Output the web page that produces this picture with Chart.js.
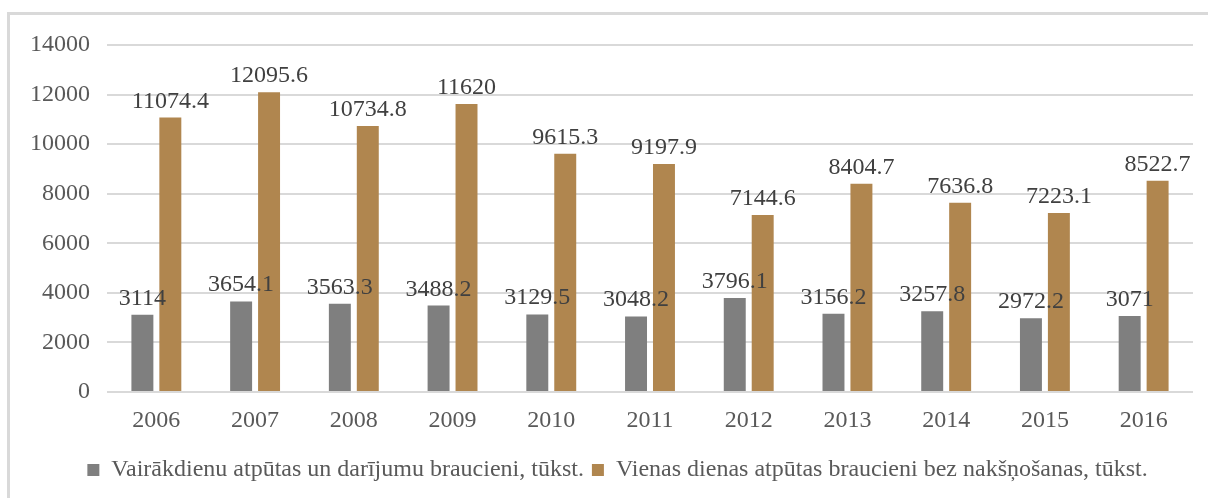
<!DOCTYPE html>
<html>
<head>
<meta charset="utf-8">
<script src="https://cdn.jsdelivr.net/npm/chart.js@4"></script>
<style>
  body { margin: 0; background: #fff; }
  #frame {
    position: absolute; left: 7px; top: 12px; width: 1300px; height: 600px;
    border-top: 3px solid #d9d9d9; border-left: 3px solid #d9d9d9;
  }
  #chart { position: absolute; left: 0; top: 0; }
</style>
</head>
<body>
<div id="frame"></div>
<canvas id="chart" width="1208" height="498"></canvas>
<script>
const years = ['2006', '2007', '2008', '2009', '2010', '2011', '2012', '2013', '2014', '2015', '2016'];
const multiDay = [3114, 3654.1, 3563.3, 3488.2, 3129.5, 3048.2, 3796.1, 3156.2, 3257.8, 2972.2, 3071];
const oneDay = [11074.4, 12095.6, 10734.8, 11620, 9615.3, 9197.9, 7144.6, 8404.7, 7636.8, 7223.1, 8522.7];
const seriesNames = [
    'Vairākdienu atpūtas un darījumu braucieni, tūkst.',
    'Vienas dienas atpūtas braucieni bez nakšņošanas, tūkst.'
];
const yTicks = [0, 2000, 4000, 6000, 8000, 10000, 12000, 14000];

const serif = "'Liberation Serif', 'Times New Roman', 'DejaVu Serif', serif";

// vērtības virs stabiņiem
const valueLabels = {
    id: 'valueLabels',
    afterDatasetsDraw(chart) {
        const ctx = chart.ctx;
        ctx.save();
        ctx.font = '24px ' + serif;
        ctx.fillStyle = '#404040';
        ctx.textAlign = 'center';
        ctx.textBaseline = 'alphabetic';
        chart.data.datasets.forEach((ds, i) => {
            chart.getDatasetMeta(i).data.forEach((bar, j) => {
                ctx.fillText(String(ds.data[j]), bar.x, bar.y - 10);
            });
        });
        ctx.restore();
    }
};

// leģendu pabīda pa labi, lai tā būtu centrēta kā oriģinālā
const legendShift = {
    id: 'legendShift',
    afterLayout(chart) {
        if (chart.legend) {
            chart.legend.left += 21;
            chart.legend.right += 21;
        }
    }
};

new Chart(document.getElementById('chart').getContext('2d'), {
    type: 'bar',
    data: {
        labels: years,
        datasets: [
            { label: seriesNames[0], data: multiDay, backgroundColor: '#7f7f7f' },
            { label: seriesNames[1], data: oneDay, backgroundColor: '#b0864f' }
        ]
    },
    options: {
        responsive: false,
        animation: false,
        categoryPercentage: 0.566,
        barPercentage: 0.786,
        layout: { padding: { left: 0, right: 15, top: 45, bottom: 6 } },
        scales: {
            x: {
                grid: { display: false, drawTicks: false },
                border: { display: false },
                ticks: { font: { family: serif, size: 24 }, color: '#595959', padding: 14 },
                afterFit(scale) { scale.height = 58; }
            },
            y: {
                min: 0,
                max: 14000,
                afterBuildTicks(scale) { scale.ticks = yTicks.map(v => ({ value: v })); },
                grid: { color: '#d9d9d9', lineWidth: 2, drawTicks: false },
                border: { display: false },
                ticks: {
                    font: { family: serif, size: 24 },
                    color: '#595959',
                    padding: 17,
                    callback: v => String(v)
                },
                afterFit(scale) { scale.width = 107; }
            }
        },
        plugins: {
            legend: {
                position: 'bottom',
                labels: {
                    font: { family: serif, size: 24 },
                    color: '#595959',
                    boxWidth: 12,
                    boxHeight: 12,
                    padding: 8
                }
            },
            tooltip: { enabled: false }
        }
    },
    plugins: [valueLabels, legendShift]
});
</script>
</body>
</html>
